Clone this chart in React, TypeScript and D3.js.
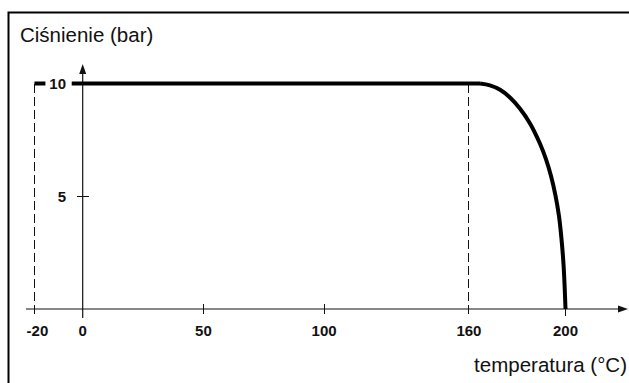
import React from "react";
import * as d3 from "d3";

// pressure curve
const curveTemp = [-20, 164.6, 168.7, 172.9, 177, 181.1, 185.3, 189.4, 191.9, 194, 195.9, 197.3, 198.3, 199.2, 199.7, 200];
const curvePress = [10, 10, 9.92, 9.72, 9.38, 8.89, 8.23, 7.34, 6.65, 5.9, 5.01, 4.12, 3.15, 1.95, 0.84, 0];

const xTicks = [-20, 0, 50, 100, 160, 200];
const yTicks = [5, 10];
const dashedAt = [-20, 160];

const yTitle = "Ciśnienie (bar)";
const xTitle = "temperatura (°C)";

export default function App() {
  const width = 629;
  const height = 383;

  const x = d3.scaleLinear().domain([0, 200]).range([82.7, 565.5]);
  const y = d3.scaleLinear().domain([0, 10]).range([309, 83.5]);

  const pts = curveTemp.map((t, i) => [t, curvePress[i]] as [number, number]);
  const flat = d3
    .line<[number, number]>()
    .x((d) => x(d[0]))
    .y((d) => y(d[1]));
  const bend = d3
    .line<[number, number]>()
    .x((d) => x(d[0]))
    .y((d) => y(d[1]))
    .curve(d3.curveCatmullRom.alpha(0.5));

  const axisColor = "#111";
  const font = "'Liberation Sans', Arial, sans-serif";
  const x0 = x(0);
  const yBase = y(0);
  const yTop = 64;
  const xRight = 628;

  return (
    <svg
      width={width}
      height={height}
      style={{ position: "absolute", left: 0, top: 0 }}
    >
      <rect width={width} height={height} fill="#fff" />
      {/* frame */}
      <path
        d={`M8.5,${height + 5}V12.5H${width + 5}`}
        fill="none"
        stroke="#000"
        strokeWidth={2}
      />
      <text x={20} y={42} fontFamily={font} fontSize={20.5} fill="#111">
        {yTitle}
      </text>
      <text
        x={627}
        y={372}
        fontFamily={font}
        fontSize={20.5}
        textAnchor="end"
        fill="#111"
      >
        {xTitle}
      </text>

      {/* dashed guides */}
      {dashedAt.map((t) => (
        <line
          key={t}
          x1={x(t)}
          x2={x(t)}
          y1={y(10)}
          y2={yBase + 9}
          stroke={axisColor}
          strokeWidth={1}
          strokeDasharray="9,4"
          shapeRendering="crispEdges"
        />
      ))}

      {/* x axis */}
      <line x1={26} x2={xRight - 8} y1={yBase} y2={yBase} stroke={axisColor} strokeWidth={1.2} />
      <path
        d={`M${xRight},${yBase}L${xRight - 10},${yBase - 3.5}L${xRight - 10},${yBase + 3.5}Z`}
        fill={axisColor}
      />
      {/* y axis */}
      <line x1={x0} x2={x0} y1={yBase + 9} y2={yTop + 8} stroke={axisColor} strokeWidth={1.2} />
      <path
        d={`M${x0},${yTop}L${x0 - 3.5},${yTop + 10}L${x0 + 3.5},${yTop + 10}Z`}
        fill={axisColor}
      />

      {/* x ticks */}
      {xTicks.map((t) => (
        <g key={t}>
          {(t === 50 || t === 100) && (
            <line x1={x(t)} x2={x(t)} y1={yBase - 5} y2={yBase + 5} stroke={axisColor} shapeRendering="crispEdges" />
          )}
          {t === 200 && (
            <line x1={x(t)} x2={x(t)} y1={yBase} y2={yBase + 7} stroke={axisColor} />
          )}
          <text
            x={x(t) + (t < 0 ? 3 : 0)}
            y={336}
            fontFamily={font}
            fontSize={15}
            fontWeight="bold"
            textAnchor="middle"
            fill="#111"
          >
            {t}
          </text>
        </g>
      ))}

      {/* curve: flat run, then the bend down to 200 */}
      <path d={flat(pts.slice(0, 2)) || ""} fill="none" stroke="#000" strokeWidth={4} />
      <path
        d={bend(pts.slice(1)) || ""}
        fill="none"
        stroke="#000"
        strokeWidth={4}
        strokeLinejoin="round"
      />

      {/* y ticks */}
      {yTicks.map((v) => (
        <g key={v}>
          {v === 5 && (
            <line x1={x0 - 6} x2={x0 + 6} y1={y(v)} y2={y(v)} stroke={axisColor} shapeRendering="crispEdges" />
          )}
          {v === 10 && (
            <rect x={x(-20) + 11} y={y(v) - 8} width={x0 - 11 - (x(-20) + 11)} height={16} fill="#fff" />
          )}
          <text
            x={66}
            y={y(v) + 5.5}
            fontFamily={font}
            fontSize={15}
            fontWeight="bold"
            textAnchor="end"
            fill="#111"
          >
            {v}
          </text>
        </g>
      ))}
    </svg>
  );
}
